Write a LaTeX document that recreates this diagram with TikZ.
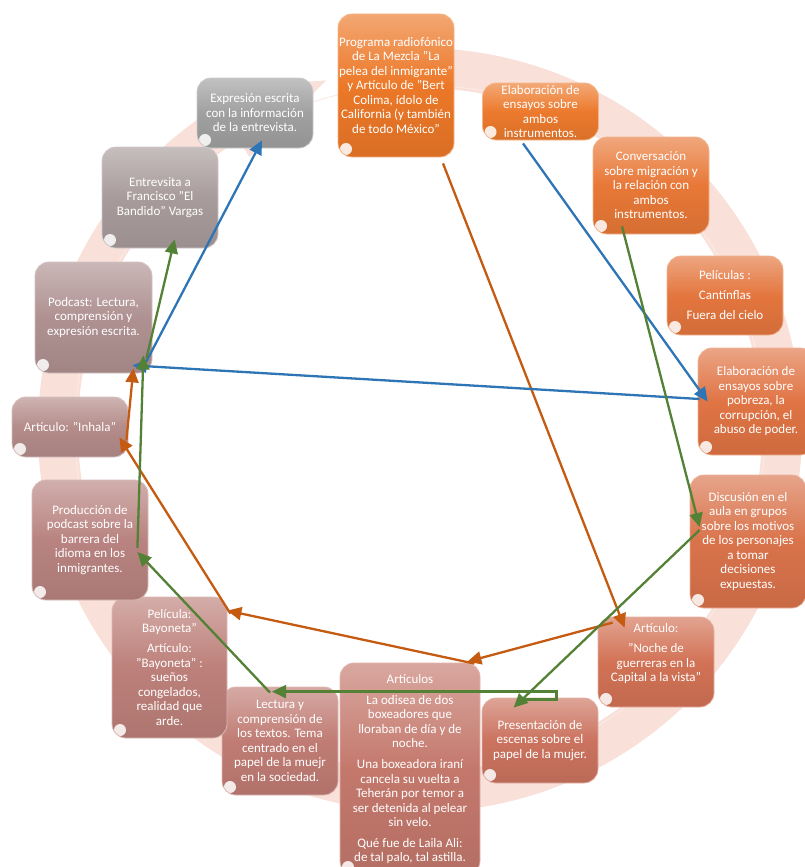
\documentclass[tikz,border=0pt]{standalone}
\usepackage{fontspec}
\setmainfont{Carlito}
\usepackage{tikz}
\usetikzlibrary{arrows.meta}

\definecolor{cProg}{RGB}{236,120,40}
\definecolor{cEnsA}{RGB}{236,122,45}
\definecolor{cConv}{RGB}{232,120,55}
\definecolor{cPeli}{RGB}{228,118,62}
\definecolor{cPobr}{RGB}{224,116,68}
\definecolor{cDisc}{RGB}{217,115,75}
\definecolor{cNoche}{RGB}{210,114,85}
\definecolor{cPres}{RGB}{203,115,95}
\definecolor{cArts}{RGB}{196,120,108}
\definecolor{cLect}{RGB}{192,124,116}
\definecolor{cBayo}{RGB}{189,128,122}
\definecolor{cProd}{RGB}{184,131,128}
\definecolor{cInha}{RGB}{180,140,138}
\definecolor{cPodc}{RGB}{175,145,145}
\definecolor{cEntr}{RGB}{168,155,155}
\definecolor{cExpr}{RGB}{160,160,160}
\definecolor{anillo}{RGB}{249,225,217}
\definecolor{naranjaosc}{RGB}{197,90,17}
\definecolor{azul}{RGB}{46,117,182}
\definecolor{verde}{RGB}{83,129,53}

\tikzset{
  paso/.style={rounded corners=14pt, draw=#1!55!white, line width=0.8pt,
    top color=#1!65!white, bottom color=#1!92!black, middle color=#1,
    text=white, align=center, minimum width=116pt, inner sep=1pt,
    font=\fontsize{13}{14.5}\selectfont,
    path picture={\fill[white, opacity=0.85]
      ([xshift=8pt,yshift=8pt]path picture bounding box.south west) circle (6pt);}},
  flecha/.style={line width=2.3pt, -{Triangle[length=14pt,width=13pt]}},
}

\begin{document}
\begin{tikzpicture}[x=1pt, y=-1pt]
  \useasboundingbox (0,0) rectangle (805,867);

  % circular arrow behind the boxes
  \begin{scope}[shift={(420,430)}, y=1pt]
    \fill[anillo] (97:342) arc[start angle=97, end angle=-238, radius=342]
      -- (-238:322) -- (-255:362) -- (-238:402) -- (-238:382)
      arc[start angle=-238, end angle=97, radius=382] -- cycle;
    \draw[anillo!70!white, line width=1pt] (0,0) circle[radius=345];
  \end{scope}

  % boxes, clockwise from the top
  \node[paso=cProg, minimum height=143pt] (prog) at (396,85.5)
    {Programa radiofónico\\de La Mezcla "La\\pelea del inmigrante"\\y Artículo de "Bert\\Colima, ídolo de\\California (y también\\de todo México"};
  \node[paso=cEnsA, minimum height=57pt] (ensA) at (540.5,111.5)
    {Elaboración de\\ensayos sobre\\ambos\\instrumentos.};
  \node[paso=cConv, minimum height=97pt] (conv) at (651,185.5)
    {Conversación\\sobre migración y\\la relación con\\ambos\\instrumentos.};
  \node[paso=cPeli, minimum height=79pt] (peli) at (725,295.5)
    {Películas :\\[5pt]Cantínflas\\[6pt]Fuera del cielo};
  \node[paso=cPobr, minimum height=107pt] (pobr) at (756,401.5)
    {Elaboración de\\ensayos sobre\\pobreza, la\\corrupción, el\\abuso de poder.};
  \node[paso=cDisc, minimum height=133pt] (disc) at (748,541.5)
    {Discusión en el\\aula en grupos\\sobre los motivos\\de los personajes\\a tomar\\decisiones\\expuestas.};
  \node[paso=cNoche, minimum height=90pt] (noche) at (656,662)
    {Artículo:\\[6pt]"Noche de\\guerreras en la\\Capital a la vista"\\[5pt]\mbox{}};
  \node[paso=cPres, minimum height=85pt] (pres) at (540,740.5)
    {Presentación de\\escenas sobre el\\papel de la mujer.};
  \node[paso=cArts, minimum width=140pt, minimum height=212pt] (arts) at (410,769)
    {Artículos\\[6.5pt]La odisea de dos\\boxeadores que\\lloraban de día y de\\noche.\\[6.5pt]Una boxeadora iraní\\cancela su vuelta a\\Teherán por temor a\\ser detenida al pelear\\sin velo.\\[6pt]Qué fue de Laila Ali:\\de tal palo, tal astilla.};
  \node[paso=cLect, minimum height=108pt] (lect) at (280,741)
    {Lectura y\\comprensión de\\los textos. Tema\\centrado en el\\papel de la muejr\\en la sociedad.};
  \node[paso=cBayo, minimum width=115pt, minimum height=141pt] (bayo) at (169.5,667.5)
    {Película:\\Bayoneta"\\[5.5pt]Artículo:\\"Bayoneta" :\\sueños\\congelados,\\realidad que\\arde.};
  \node[paso=cProd, minimum height=120pt] (prod) at (90,540)
    {Producción de\\podcast sobre la\\barrera del\\idioma en los\\inmigrantes.};
  \node[paso=cInha, minimum height=60pt] (inha) at (70,427)
    {Artículo: "Inhala"};
  \node[paso=cPodc, minimum width=117pt, minimum height=111pt] (podc) at (93.5,317.5)
    {Podcast: Lectura,\\comprensión y\\expresión escrita.};
  \node[paso=cEntr, minimum height=101pt] (entr) at (160,197.5)
    {Entrevsita a\\Francisco "El\\Bandido" Vargas};
  \node[paso=cExpr, minimum height=70pt] (expr) at (255,113)
    {Expresión escrita\\con la información\\de la entrevista.};

  % orange path
  \draw[flecha, naranjaosc] ([xshift=47pt,yshift=-6pt]prog.south) -- ([xshift=27pt,yshift=-11pt]noche.north west);
  \draw[flecha, naranjaosc] ([xshift=15pt,yshift=-6pt]noche.north west) -- ([xshift=-13pt,yshift=1pt]arts.north east);
  \draw[flecha, naranjaosc] ([xshift=-6pt,yshift=-1pt]arts.north east) -- ([yshift=-14pt]bayo.north east);
  \draw[flecha, naranjaosc] ([xshift=3pt,yshift=-17pt]bayo.north east) -- ([xshift=-9pt,yshift=20pt]inha.south east);
  \draw[flecha, naranjaosc] ([xshift=-2pt,yshift=17pt]inha.south east) -- ([xshift=-19pt,yshift=5pt]podc.south east);

  % blue path
  \draw[flecha, azul] ([xshift=-17.5pt,yshift=-3pt]ensA.south) -- ([xshift=10pt]pobr.west);
  \draw[flecha, azul] ([xshift=2pt,yshift=2.5pt]pobr.west) -- ([xshift=-20pt,yshift=8pt]podc.south east);
  \draw[flecha, azul] ([xshift=-6pt,yshift=12pt]podc.south east) -- ([xshift=7pt,yshift=8pt]expr.south);

  % green path
  \draw[flecha, verde] ([xshift=-29pt,yshift=8pt]conv.south) -- ([xshift=10pt,yshift=14.5pt]disc.west);
  \draw[flecha, verde] ([xshift=10pt,yshift=11.5pt]disc.west) -- ([xshift=32pt,yshift=-10pt]pres.north west);
  \draw[flecha, verde] ([xshift=39pt,yshift=-2pt]pres.north west) -- ++(36,0) |- ([xshift=-8pt,yshift=-5pt]lect.north);
  \draw[flecha, verde] ([xshift=-10pt,yshift=-6pt]lect.north) -- ([xshift=-11pt,yshift=-12pt]prod.east);
  \draw[flecha, verde] ([xshift=-11pt,yshift=-8pt]prod.east) -- ([xshift=-9pt,yshift=18pt]podc.south east);
  \draw[flecha, verde] ([xshift=-6pt,yshift=15pt]podc.south east) -- ([xshift=73pt,yshift=9pt]entr.south west);
\end{tikzpicture}
\end{document}
